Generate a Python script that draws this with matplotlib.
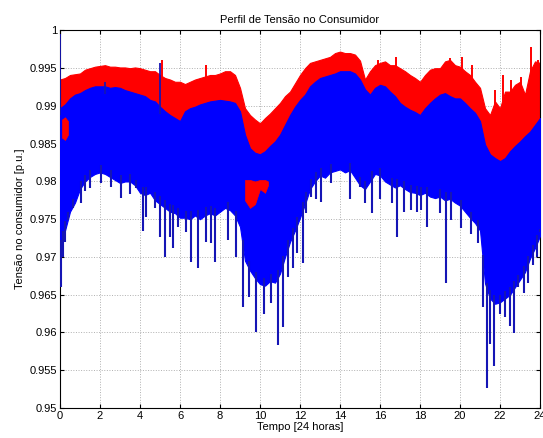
import numpy as np
import matplotlib
matplotlib.use("Agg")
import matplotlib.pyplot as plt

plt.rcParams["font.family"] = ["Liberation Sans", "DejaVu Sans"]

# time axis, every 15 minutes over the day
hours = np.arange(0, 24.01, 0.25)

# upper edge of the red family of curves
red_hi = [0.9935, 0.9937, 0.9941, 0.9942, 0.9943, 0.9948, 0.9950, 0.9952, 0.9953, 0.9954, 0.9952, 0.9952, 0.9951,
          0.9951, 0.9950, 0.9951, 0.9950, 0.9948, 0.9946, 0.9946, 0.9941, 0.9937, 0.9935, 0.9932, 0.9932,
          0.9929, 0.9932, 0.9935, 0.9937, 0.9939, 0.9941, 0.9941, 0.9943, 0.9946, 0.9946, 0.9941, 0.9924,
          0.9897, 0.9888, 0.9882, 0.9877, 0.9884, 0.9890, 0.9897, 0.9904, 0.9913, 0.9919, 0.9930, 0.9941,
          0.9950, 0.9957, 0.9959, 0.9961, 0.9963, 0.9965, 0.9970, 0.9972, 0.9970, 0.9970, 0.9968, 0.9960,
          0.9935, 0.9946, 0.9954, 0.9957, 0.9959, 0.9954, 0.9954, 0.9950, 0.9946, 0.9941, 0.9937, 0.9932,
          0.9941, 0.9948, 0.9950, 0.9950, 0.9959, 0.9961, 0.9954, 0.9952, 0.9946, 0.9941, 0.9932, 0.9924,
          0.9897, 0.9888, 0.9906, 0.9897, 0.9919, 0.9919, 0.9928, 0.9932, 0.9915, 0.9946, 0.9959, 0.9957]

# upper edge of the blue family
blue_hi = [0.9897, 0.9902, 0.9910, 0.9915, 0.9917, 0.9921, 0.9924, 0.9926, 0.9926, 0.9926, 0.9924, 0.9925, 0.9924,
           0.9921, 0.9919, 0.9917, 0.9915, 0.9913, 0.9908, 0.9906, 0.9899, 0.9893, 0.9888, 0.9884, 0.9880,
           0.9893, 0.9897, 0.9899, 0.9902, 0.9904, 0.9906, 0.9907, 0.9908, 0.9907, 0.9906, 0.9904, 0.9893,
           0.9862, 0.9844, 0.9838, 0.9836, 0.9840, 0.9847, 0.9853, 0.9862, 0.9875, 0.9888, 0.9899, 0.9908,
           0.9915, 0.9926, 0.9932, 0.9937, 0.9939, 0.9941, 0.9943, 0.9946, 0.9946, 0.9946, 0.9943, 0.9935,
           0.9922, 0.9915, 0.9924, 0.9928, 0.9926, 0.9919, 0.9913, 0.9904, 0.9899, 0.9895, 0.9892, 0.9888,
           0.9897, 0.9904, 0.9910, 0.9915, 0.9917, 0.9913, 0.9910, 0.9910, 0.9904, 0.9897, 0.9891, 0.9880,
           0.9849, 0.9836, 0.9831, 0.9827, 0.9831, 0.9840, 0.9847, 0.9853, 0.9860, 0.9866, 0.9875, 0.9884]

# lower edge of the solid blue band
blue_lo = [0.9710, 0.9735, 0.9760, 0.9772, 0.9790, 0.9800, 0.9806, 0.9810, 0.9812, 0.9810, 0.9806, 0.9802, 0.9798,
           0.9800, 0.9800, 0.9795, 0.9785, 0.9782, 0.9785, 0.9775, 0.9770, 0.9765, 0.9760, 0.9758, 0.9752,
           0.9752, 0.9750, 0.9755, 0.9750, 0.9755, 0.9758, 0.9755, 0.9760, 0.9765, 0.9762, 0.9755, 0.9740,
           0.9695, 0.9682, 0.9672, 0.9664, 0.9662, 0.9668, 0.9666, 0.9678, 0.9700, 0.9720, 0.9735, 0.9752,
           0.9770, 0.9790, 0.9800, 0.9808, 0.9805, 0.9812, 0.9814, 0.9816, 0.9812, 0.9815, 0.9805, 0.9795,
           0.9790, 0.9800, 0.9810, 0.9808, 0.9800, 0.9796, 0.9792, 0.9795, 0.9790, 0.9786, 0.9785, 0.9782,
           0.9785, 0.9780, 0.9778, 0.9780, 0.9775, 0.9777, 0.9772, 0.9768, 0.9760, 0.9752, 0.9745, 0.9735,
           0.9665, 0.9645, 0.9638, 0.9640, 0.9645, 0.9650, 0.9660, 0.9670, 0.9680, 0.9698, 0.9712, 0.9728]

# downward spikes of the blue curves (time, minimum)
spike_t = [0.03, 0.15, 0.27, 0.4, 0.65, 1.03, 1.23, 1.48, 2.07, 2.57, 3.03, 3.48, 3.82, 4.15, 4.32, 4.73,
           4.98, 5.23, 5.48, 5.65, 5.9, 6.32, 6.53, 6.9, 7.32, 7.57, 7.73, 8.4, 8.82, 9.15, 9.45, 9.82,
           10.2, 10.57, 10.9, 11.15, 11.4, 11.65, 11.87, 12.15, 12.32, 12.57, 12.82, 13.03, 13.57, 14.48,
           14.98, 15.23, 15.6, 15.98, 16.6, 16.85, 17.2, 17.57, 17.87, 18.07, 18.37, 19.0, 19.32, 19.57,
           20.07, 20.57, 20.9, 21.15, 21.37, 21.48, 21.7, 21.98, 22.23, 22.48, 22.7, 22.9, 23.2, 23.4,
           23.65, 23.87, 23.98]
spike_lo = [0.9660, 0.9700, 0.9720, 0.9749, 0.9765, 0.9771, 0.9788, 0.9791, 0.9798, 0.9793, 0.9778, 0.9784,
            0.9791, 0.9735, 0.9753, 0.9765, 0.9727, 0.9700, 0.9727, 0.9712, 0.9740, 0.9733, 0.9693, 0.9685,
            0.9720, 0.9718, 0.9693, 0.9722, 0.9700, 0.9634, 0.9647, 0.9601, 0.9625, 0.9639, 0.9583, 0.9607,
            0.9673, 0.9685, 0.9705, 0.9692, 0.9758, 0.9780, 0.9777, 0.9773, 0.9798, 0.9777, 0.9793, 0.9771,
            0.9758, 0.9777, 0.9771, 0.9726, 0.9760, 0.9762, 0.9760, 0.9762, 0.9740, 0.9758, 0.9665, 0.9749,
            0.9738, 0.9731, 0.9718, 0.9634, 0.9526, 0.9585, 0.9556, 0.9625, 0.9620, 0.9609, 0.9599, 0.9660,
            0.9652, 0.9665, 0.9689, 0.9700, 0.9733]

# upward spikes
red_up_t = [5.1, 7.32, 15.9, 16.8, 19.5, 20.1, 20.6, 21.73, 22.15, 22.57, 23.07, 23.57, 23.9]
red_up_v = [0.9961, 0.9954, 0.9961, 0.9965, 0.9963, 0.9965, 0.9954, 0.9921, 0.9941, 0.9934, 0.9939, 0.9978, 0.9961]
blue_up_t = [0.02, 2.23, 5.0]
blue_up_v = [0.9995, 0.9932, 0.9957]

# red curves showing through gaps in the blue band
gap1_t = [0.1, 0.25, 0.4]
gap1_hi = [0.9882, 0.9885, 0.9880]
gap1_lo = [0.9858, 0.9855, 0.9862]
gap2_t = [9.25, 9.5, 9.75, 10.0, 10.25, 10.4]
gap2_hi = [0.9802, 0.9802, 0.9800, 0.9802, 0.9802, 0.9800]
gap2_lo = [0.9775, 0.9765, 0.9770, 0.9790, 0.9785, 0.9795]

RED = "#ff0000"
BLUE = "#0000ff"
DARK = "#1515b5"

fig = plt.figure(figsize=(5.43, 4.38), dpi=100)
ax = fig.add_axes([0.1105, 0.0685, 0.884, 0.862])

ax.fill_between(hours, np.array(blue_hi) - 0.004, red_hi, color=RED, lw=0.8, zorder=2)
ax.vlines(red_up_t, np.interp(red_up_t, hours, red_hi) - 0.001, red_up_v, color=RED, lw=1.4, zorder=2)

ax.fill_between(hours, blue_lo, blue_hi, color=BLUE, lw=0.8, zorder=3)
ax.vlines(spike_t, spike_lo, np.interp(spike_t, hours, blue_lo) + 0.001, color=DARK, lw=1.5, zorder=3)
ax.vlines(blue_up_t, np.interp(blue_up_t, hours, blue_hi) - 0.001, blue_up_v, color=DARK, lw=1.3, zorder=3)

ax.fill_between(gap1_t, gap1_lo, gap1_hi, color=RED, lw=0.5, zorder=4)
ax.fill_between(gap2_t, gap2_lo, gap2_hi, color=RED, lw=0.5, zorder=4)

ax.set_xlim(0, 24)
ax.set_ylim(0.95, 1.0)
ax.set_xticks(range(0, 25, 2))
yt = np.arange(0.95, 1.0001, 0.005)
ax.set_yticks(yt)
ax.set_yticklabels(["0.95", "0.955", "0.96", "0.965", "0.97", "0.975", "0.98", "0.985", "0.99", "0.995", "1"])
ax.tick_params(direction="in", labelsize=8, length=3, top=True, right=True, pad=2)
ax.grid(True, color="#b0b0b0", linestyle=":", linewidth=0.7)
ax.set_axisbelow(True)

ax.set_title("Perfil de Tensão no Consumidor", fontsize=8, pad=5)
ax.set_xlabel("Tempo [24 horas]", fontsize=8, labelpad=1)
ax.set_ylabel("Tensão no consumidor [p.u.]", fontsize=8, labelpad=3)

fig.savefig("out.png", dpi=100)
